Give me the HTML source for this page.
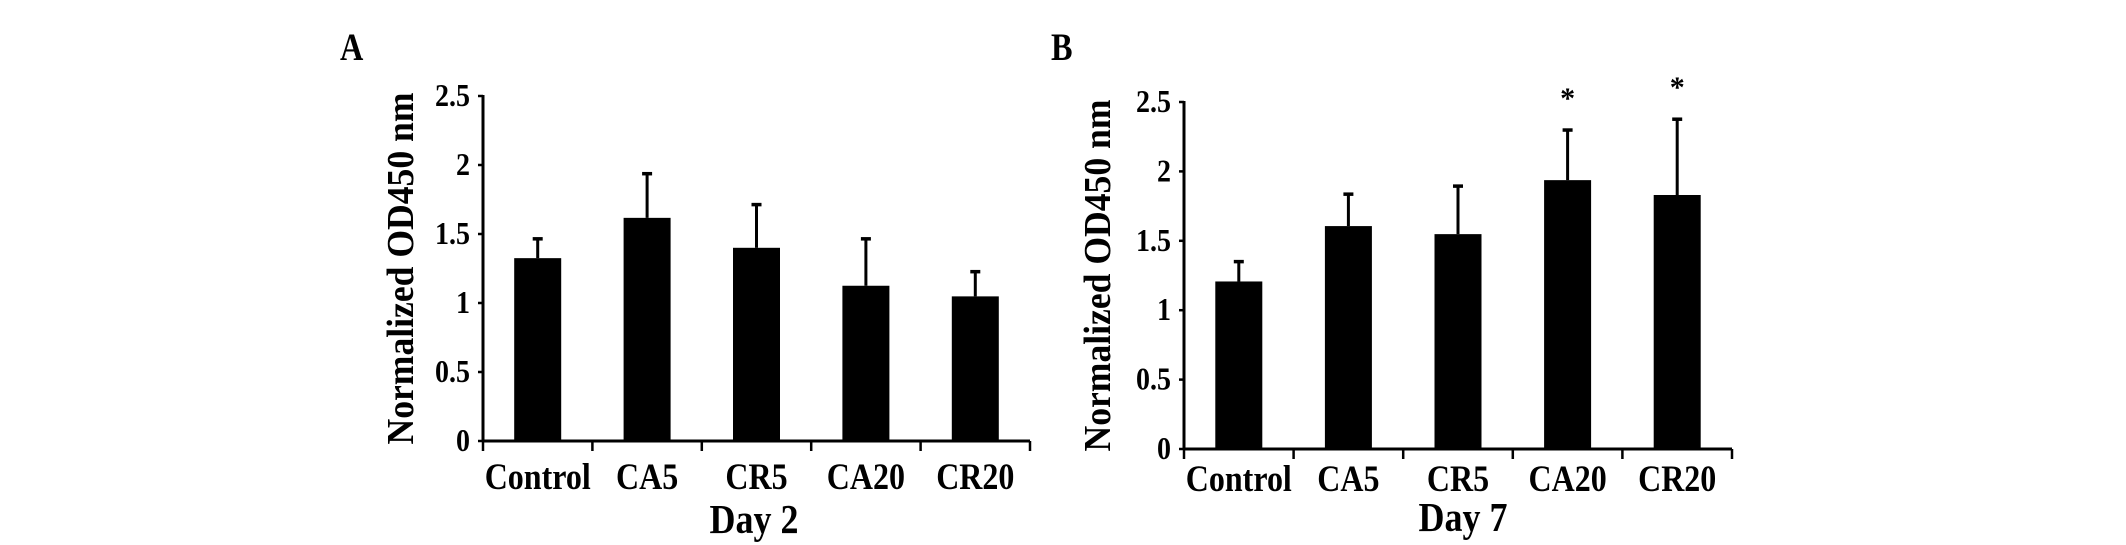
<!DOCTYPE html>
<html><head><meta charset="utf-8"><style>
html,body{margin:0;padding:0;background:#fff;width:2126px;height:545px;overflow:hidden}
text{font-family:"Liberation Serif",serif;font-weight:bold;fill:#000}
</style></head><body>
<svg id="fig" width="2126" height="545" viewBox="0 0 2126 545" xmlns="http://www.w3.org/2000/svg"></svg>
<script>
const categories = ["Control","CA5","CR5","CA20","CR20"];
const day2Values = [1.325,1.617,1.40,1.125,1.048];
const day2Errors = [1.465,1.937,1.713,1.465,1.227];
const day7Values = [1.207,1.606,1.548,1.937,1.83];
const day7Errors = [1.35,1.836,1.894,2.298,2.376];
const day7Stars = [false,false,false,true,true];
const yTicks = [0,0.5,1,1.5,2,2.5];
const yTickLabels = ["0","0.5","1","1.5","2","2.5"];

const NS="http://www.w3.org/2000/svg";
const svg=document.getElementById('fig');
function mk(tag,attrs,parent){const e=document.createElementNS(NS,tag);for(const k in attrs)e.setAttribute(k,attrs[k]);(parent||svg).appendChild(e);return e;}
function txt(g,x,y,size,anchor,sx,sy,str){
  const t=mk('text',{x:0,y:0,'font-size':size,'text-anchor':anchor,transform:`translate(${x},${y}) scale(${sx},${sy})`},g);
  t.textContent=str;return t;
}

function panel(cfg){
  const g=mk('g',{});
  
  
  const x0=cfg.x0,x1=cfg.x1,y0=cfg.y0,y1=cfg.y1;
  const yScale=v=>y0-(v/2.5)*(y0-y1);
  const step=(x1-x0)/categories.length;
  const xCenter=i=>x0+step*(i+0.5);
  const L=txt(g,cfg.lx,60,34,'start',0.95,1.15,cfg.letter);
  
  
  categories.forEach((c,i)=>{
    const v=cfg.values[i],e=cfg.errors[i],cx=xCenter(i);
    const eb=mk('line',{x1:cx,x2:cx,y1:yScale(v),y2:yScale(e),stroke:'#000','stroke-width':3},g);
    
    
    const cap=mk('line',{x1:cx-5,x2:cx+5,y1:yScale(e),y2:yScale(e),stroke:'#000','stroke-width':3.5},g);
    
    
    const r=mk('rect',{x:cx-23.5,y:yScale(v),width:47,height:y0-yScale(v),fill:'#000'},g);
    
    
    const t=txt(g,cx,cfg.catY,32,'middle',1,1.15,c);
    
    
    if(cfg.stars&&cfg.stars[i]){
      const s=txt(g,cx,yScale(e)-22,30,'middle',1,1,'*');
      
      
    }
  });
  const ya=mk('line',{x1:x0,x2:x0,y1:y1-1,y2:y0+1,stroke:'#000','stroke-width':3},g);
  
  
  const xa=mk('line',{x1:x0-1,x2:x1,y1:y0,y2:y0,stroke:'#000','stroke-width':3},g);
  
  
  for(let i=0;i<=categories.length;i++){
    const xt=x0+step*i;
    const tk=mk('line',{x1:xt,x2:xt,y1:y0,y2:y0+10,stroke:'#000','stroke-width':2.5},g);
    
    
  }
  yTicks.forEach((v,i)=>{
    const yy=yScale(v);
    const tk=mk('line',{x1:x0-5,x2:x0,y1:yy,y2:yy,stroke:'#000','stroke-width':2.5},g);
    
    
    const t=txt(g,x0-13,yy+10,28,'end',1,1.15,yTickLabels[i]);
    
    
  });
  const xt=txt(g,cfg.xtX,cfg.xtY,36,'middle',1,1.15,cfg.xTitle);
  
  
  const cy=(y0+y1)/2;
  const yt=mk('text',{x:0,y:0,'font-size':38,'text-anchor':'middle',textLength:352,lengthAdjust:'spacingAndGlyphs',transform:`translate(${cfg.ytX},${cy}) rotate(-90)`},g);
  yt.textContent='Normalized OD450 nm';
  
  
}
panel({name:'panel-a-day2',letter:'A',lx:340,x0:483,x1:1030,y0:441,y1:96,values:day2Values,errors:day2Errors,catY:489,xTitle:'Day 2',xtX:754,xtY:533,ytX:413});
panel({name:'panel-b-day7',letter:'B',lx:1051,x0:1184,x1:1732,y0:449,y1:102,values:day7Values,errors:day7Errors,stars:day7Stars,catY:491,xTitle:'Day 7',xtX:1463,xtY:531,ytX:1110});
</script>
</body></html>
